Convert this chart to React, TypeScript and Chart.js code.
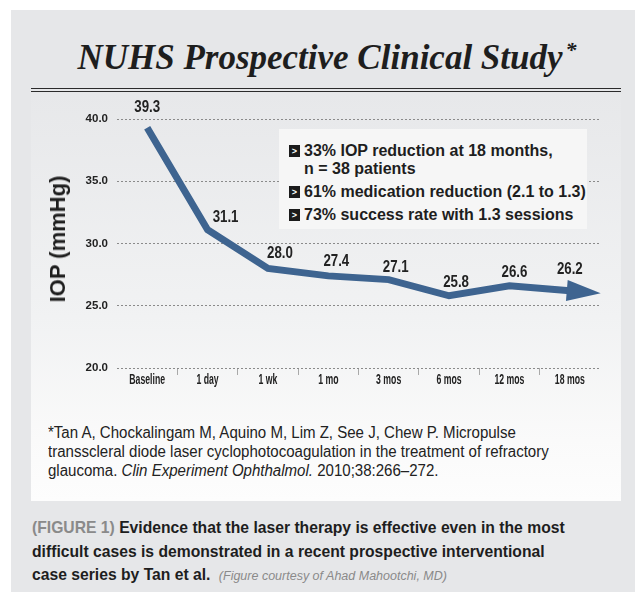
import React, { useEffect, useRef } from "react";
import { Chart, registerables } from "chart.js";

Chart.register(...registerables);

// ---------- data ----------
const categories = ["Baseline", "1 day", "1 wk", "1 mo", "3 mos", "6 mos", "12 mos", "18 mos"];
const iopValues = [39.3, 31.1, 28.0, 27.4, 27.1, 25.8, 26.6, 26.2];
const yMin = 20;
const yMax = 40;
const yStep = 5;
const highlightLines = [
  ["33% IOP reduction at 18 months,", "n = 38 patients"],
  ["61% medication reduction (2.1 to 1.3)"],
  ["73% success rate with 1.3 sessions"],
];

// ---------- styles ----------
const SANS = '"Liberation Sans", Arial, sans-serif';
const LINE_COLOR = "#3e6490";
const TEXT_DARK = "#222222";
// label offsets (px) relative to each point
const labelOffsets: [number, number][] = [
  [0, -20], [18, -12], [12, -15], [8, -14], [7, -12], [7, -13], [5, -13], [0, -21],
];

const valueLabelPlugin = {
  id: "valueLabels",
  afterDatasetsDraw(chart: any) {
    const ctx = chart.ctx;
    const meta = chart.getDatasetMeta(0);
    const data = chart.data.datasets[0].data as number[];
    meta.data.forEach((pt: any, i: number) => {
      const [dx, dy] = labelOffsets[i] || [0, -14];
      ctx.save();
      ctx.translate(pt.x + dx, pt.y + dy);
      ctx.scale(0.83, 1);
      ctx.font = `bold 16px ${SANS}`;
      ctx.fillStyle = TEXT_DARK;
      ctx.textAlign = "center";
      ctx.textBaseline = "middle";
      ctx.fillText(data[i].toFixed(1), 0, 0);
      ctx.restore();
    });
  },
};

// condensed category labels drawn at the x scale's tick positions
const xLabelPlugin = {
  id: "xLabels",
  afterDraw(chart: any) {
    const ctx = chart.ctx;
    const xs = chart.scales.x;
    xs.ticks.forEach((t: any, i: number) => {
      const x = xs.getPixelForTick(i);
      const label = String(xs.getLabelForValue(t.value));
      ctx.save();
      ctx.translate(x, xs.top + 12);
      ctx.scale(0.58, 1);
      ctx.font = `bold 15px ${SANS}`;
      ctx.fillStyle = TEXT_DARK;
      ctx.textAlign = "center";
      ctx.textBaseline = "middle";
      ctx.fillText(label, 0, 0);
      ctx.restore();
    });
  },
};

const arrowPlugin = {
  id: "arrowHead",
  afterDatasetsDraw(chart: any) {
    const ctx = chart.ctx;
    const pts = chart.getDatasetMeta(0).data;
    const n = pts.length;
    if (n < 2) return;
    const p = pts[n - 1];
    const q = pts[n - 2];
    let dx = p.x - q.x;
    let dy = p.y - q.y;
    const len = Math.hypot(dx, dy) || 1;
    dx /= len;
    dy /= len;
    const nx = -dy;
    const ny = dx;
    const bx = p.x - dx * 3;
    const by = p.y - dy * 3;
    const tx = p.x + dx * 31;
    const ty = p.y + dy * 31;
    ctx.save();
    ctx.fillStyle = LINE_COLOR;
    ctx.beginPath();
    ctx.moveTo(tx, ty);
    ctx.lineTo(bx + nx * 10.5, by + ny * 10.5);
    ctx.lineTo(bx - nx * 10.5, by - ny * 10.5);
    ctx.closePath();
    ctx.fill();
    ctx.restore();
  },
};

function IopChart() {
  const ref = useRef<HTMLCanvasElement | null>(null);
  useEffect(() => {
    if (!ref.current) return;
    const chart = new Chart(ref.current, {
      type: "line",
      data: {
        labels: categories,
        datasets: [
          {
            data: iopValues,
            borderColor: LINE_COLOR,
            borderWidth: 7,
            pointRadius: 0,
            pointHoverRadius: 0,
            tension: 0,
            fill: false,
            borderJoinStyle: "miter",
            borderCapStyle: "butt",
          },
        ],
      },
      options: {
        animation: false,
        responsive: false,
        events: [],
        layout: { padding: { top: 26, right: 21, left: 0, bottom: 0 } },
        plugins: {
          legend: { display: false },
          tooltip: { enabled: false },
          title: { display: false },
        },
        scales: {
          x: {
            type: "category",
            offset: true,
            border: { display: false },
            grid: {
              offset: true,
              drawOnChartArea: false,
              drawTicks: true,
              tickLength: 7,
              lineWidth: 1,
              color: (c: any) =>
                c.index === undefined || c.index === 0 ? "rgba(0,0,0,0)" : "#a9a9a9",
            },
            ticks: {
              display: false,
              autoSkip: false,
              maxRotation: 0,
            },
            afterFit: (s: any) => {
              s.height = 32;
            },
          },
          y: {
            min: yMin,
            max: yMax,
            border: { display: false, dash: [2, 2] },
            grid: {
              drawTicks: false,
              color: "#8a8a8a",
              lineWidth: 1,
            },
            ticks: {
              stepSize: yStep,
              padding: 9,
              color: TEXT_DARK,
              font: { family: SANS, size: 11.5, weight: "bold" },
              callback: (v: any) => Number(v).toFixed(1),
            },
            afterFit: (s: any) => {
              s.width = 86;
            },
          },
        },
      },
      plugins: [valueLabelPlugin, arrowPlugin, xLabelPlugin],
    } as any);
    return () => chart.destroy();
  }, []);
  return <canvas ref={ref} width={590} height={307} style={{ width: 590, height: 307, display: "block" }} />;
}

export default function App() {
  const abs = (s: React.CSSProperties): React.CSSProperties => ({ position: "absolute", ...s });
  return (
    <div style={abs({ left: 0, top: 0, width: 635, height: 593, background: "#ffffff", overflow: "hidden" })}>
      {/* card */}
      <div style={abs({ left: 11, top: 10, width: 624, height: 582, background: "#e6e7e9" })} />
      {/* title */}
      <div
        style={abs({
          left: 31,
          top: 40,
          width: 592,
          textAlign: "center",
          fontFamily: '"Liberation Serif", "Times New Roman", serif',
          fontWeight: "bold",
          fontStyle: "italic",
          fontSize: 35,
          lineHeight: "35px",
          color: "#1e1e1e",
          whiteSpace: "nowrap",
        })}
      >
        NUHS Prospective Clinical Study
        <span style={{ fontSize: 22, position: "relative", top: -12, marginLeft: 3 }}>*</span>
      </div>
      {/* double rule */}
      <div style={abs({ left: 31, top: 87.5, width: 590, height: 1.5, background: "#2b2b2b" })} />
      <div style={abs({ left: 31, top: 90.5, width: 590, height: 1.5, background: "#2b2b2b" })} />
      {/* panel */}
      <div
        style={abs({
          left: 31,
          top: 93,
          width: 590,
          height: 408,
          background: "linear-gradient(to bottom, #e7e8ea 0%, #f1f2f3 55%, #fafafa 85%, #fdfdfd 100%)",
        })}
      />
      {/* chart */}
      <div style={abs({ left: 31, top: 93, width: 590, height: 307 })}>
        <IopChart />
      </div>
      {/* y-axis title */}
      <div
        style={abs({
          left: 58,
          top: 239,
          transform: "translate(-50%, -50%) rotate(-90deg)",
          fontFamily: SANS,
          fontWeight: "bold",
          fontSize: 22,
          lineHeight: "24px",
          color: "#1e1e1e",
          whiteSpace: "nowrap",
        })}
      >
        IOP (mmHg)
      </div>
      {/* annotation box */}
      <div style={abs({ left: 279, top: 129, width: 308, height: 100, background: "#f6f6f6" })}>
        {highlightLines.map((lines, i) => {
          const tops = [13, 54, 77];
          return (
            <div key={i} style={abs({ left: 10, top: tops[i] })}>
              <div
                style={abs({
                  left: 0,
                  top: 3,
                  width: 11,
                  height: 12,
                  background: "#1b1b1b",
                  color: "#fff",
                  fontFamily: SANS,
                  fontSize: 9,
                  lineHeight: "12px",
                  textAlign: "center",
                  fontWeight: "bold",
                })}
              >
                &gt;
              </div>
              <div
                style={abs({
                  left: 15,
                  top: 0,
                  fontFamily: SANS,
                  fontWeight: "bold",
                  fontSize: 16,
                  lineHeight: "18px",
                  color: "#1e1e1e",
                  whiteSpace: "nowrap",
                })}
              >
                {lines.map((l, j) => (
                  <div key={j}>{l}</div>
                ))}
              </div>
            </div>
          );
        })}
      </div>
      {/* footnote */}
      <div
        style={abs({
          left: 48,
          top: 422.5,
          fontFamily: SANS,
          fontSize: 16,
          lineHeight: "19px",
          color: "#222",
          whiteSpace: "nowrap",
          transform: "scaleX(0.94)",
          transformOrigin: "left top",
        })}
      >
        *Tan A, Chockalingam M, Aquino M, Lim Z, See J, Chew P. Micropulse
        <br />
        transscleral diode laser cyclophotocoagulation in the treatment of refractory
        <br />
        glaucoma. <i>Clin Experiment Ophthalmol.</i> 2010;38:266–272.
      </div>
      {/* caption */}
      <div
        style={abs({
          left: 32,
          top: 516,
          fontFamily: SANS,
          fontWeight: "bold",
          fontSize: 15.7,
          lineHeight: "23.5px",
          color: "#1e1e1e",
          whiteSpace: "nowrap",
        })}
      >
        <span style={{ color: "#8a8a8a" }}>(FIGURE 1)</span> Evidence that the laser therapy is effective even in the most
        <br />
        difficult cases is demonstrated in a recent prospective interventional
        <br />
        case series by Tan et al.{" "}
        <span style={{ fontWeight: "normal", fontStyle: "italic", fontSize: 12.5, color: "#8a8a8a", marginLeft: 4 }}>
          (Figure courtesy of Ahad Mahootchi, MD)
        </span>
      </div>
    </div>
  );
}
